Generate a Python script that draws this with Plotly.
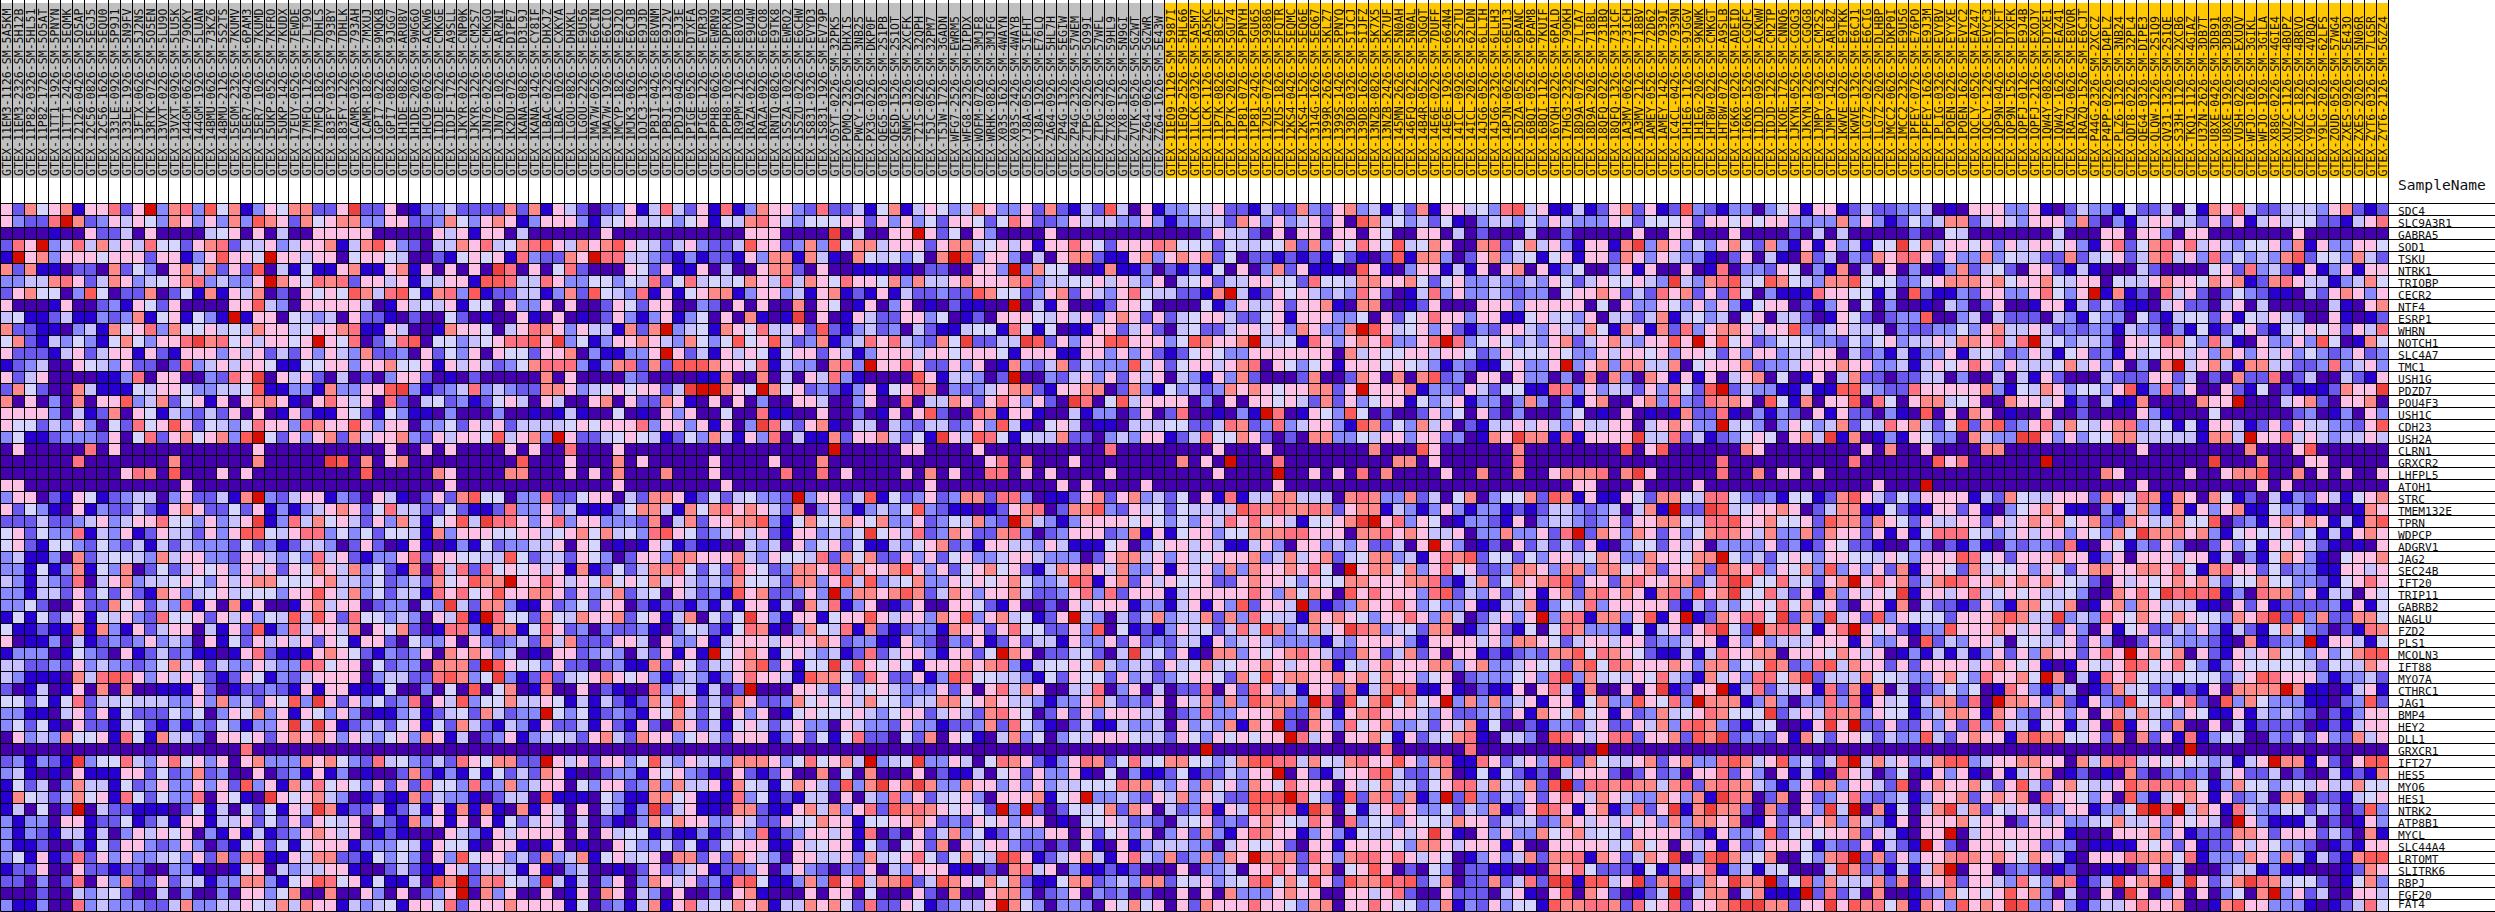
import numpy as np
import plotly.graph_objects as go

sample_names = """GTEX-11EM3-1126-SM-5A5KM GTEX-11EM3-2326-SM-5H12B GTEX-11P82-0326-SM-5HL51 GTEX-11P82-1726-SM-5O5AT GTEX-11TT1-1926-SM-5PNYN GTEX-11TT1-2426-SM-5EQMK GTEX-12126-0426-SM-5O5AP GTEX-12C56-0826-SM-5EGJ5 GTEX-12C56-1626-SM-5EQU0 GTEX-133LE-0926-SM-5P9J1
GTEX-133LE-1926-SM-5N9FV GTEX-13FTX-0626-SM-5J2NS GTEX-13RTK-0726-SM-5O5EN GTEX-13VXT-0226-SM-5LU9O GTEX-13VXT-0926-SM-5LU5K GTEX-144GM-0626-SM-79OKY GTEX-144GM-1926-SM-5LUAN GTEX-14BMU-0626-SM-73KZ6 GTEX-14BMU-2126-SM-5S2TS GTEX-15EOM-2326-SM-7KUMV
GTEX-15ER7-0426-SM-6PAM3 GTEX-15ER7-1026-SM-7KUMD GTEX-15UKP-0526-SM-7KFRO GTEX-15UKP-1426-SM-7KUDX GTEX-17EUY-0526-SM-7EWDE GTEX-17MFQ-1126-SM-7LT9O GTEX-17MFQ-1826-SM-7DHLS GTEX-183FY-0326-SM-793BY GTEX-183FY-1226-SM-7DHLK GTEX-1CAMR-0326-SM-793AH
GTEX-1CAMR-1826-SM-7MXUJ GTEX-1GPI7-0226-SM-9MQKB GTEX-1GPI7-0826-SM-9JGG7 GTEX-1H1DE-0826-SM-ARU8V GTEX-1H1DE-2026-SM-9WG6O GTEX-1HCU9-0626-SM-ACKW6 GTEX-1IDJE-0226-SM-CMKGE GTEX-1IDJF-1726-SM-A9SLL GTEX-1JKYR-0226-SM-CNP0K GTEX-1JKYR-1226-SM-CM2S7
GTEX-1JN76-0226-SM-CMKGO GTEX-1JN76-1026-SM-ARZNI GTEX-1K2DU-0726-SM-DIPE7 GTEX-1KANA-0826-SM-D3L9J GTEX-1KANA-1426-SM-CY8IF GTEX-1LBAC-0226-SM-DHXJZ GTEX-1LBAC-1026-SM-CXKYA GTEX-1LGOU-0826-SM-DHXKL GTEX-1LGOU-2226-SM-E9U56 GTEX-1MA7W-0526-SM-E6CIN
GTEX-1MA7W-1926-SM-E6CIO GTEX-1MCYP-1826-SM-E9J2O GTEX-1MJK3-0626-SM-E6CJB GTEX-1OJC3-1326-SM-E9J3D GTEX-1PBJI-0426-SM-E8VNM GTEX-1PBJI-1326-SM-E9J2V GTEX-1PDJ9-0426-SM-E9J3E GTEX-1PIGE-0526-SM-DTXFA GTEX-1PIGE-1226-SM-EVR3O GTEX-1PPH8-0626-SM-EWRN9
GTEX-1PPH8-1026-SM-DPRXN GTEX-1R9PM-2126-SM-E8VOB GTEX-1RAZA-0226-SM-E9U4W GTEX-1RAZA-0926-SM-E6CO8 GTEX-1RNTQ-0826-SM-E9TK8 GTEX-1S5ZA-1026-SM-EWRO2 GTEX-1S5ZU-0226-SM-E6CHW GTEX-1S831-0326-SM-EVYD3 GTEX-1S831-1926-SM-EV79P GTEX-O5YT-0226-SM-32PK5
GTEX-POMQ-2326-SM-DHXIS GTEX-PWCY-1926-SM-3NB25 GTEX-PX3G-0226-SM-DKP0F GTEX-QEG5-0326-SM-2S1PB GTEX-QESD-1526-SM-2S1OT GTEX-SNMC-1326-SM-2XCFK GTEX-T2IS-0226-SM-32QPH GTEX-T5JC-0526-SM-32PM7 GTEX-T5JW-1726-SM-3GADN GTEX-WFG7-2526-SM-EWRM5
GTEX-WFG8-2326-SM-DIPDX GTEX-WOFM-0726-SM-3MJF8 GTEX-WRHK-0826-SM-3MJFG GTEX-X03S-1626-SM-4WAYN GTEX-X03S-2426-SM-4WAYB GTEX-YJ8A-0526-SM-5IFHT GTEX-YJ8A-1926-SM-E76LQ GTEX-ZA64-0926-SM-5HL7H GTEX-ZP4G-1326-SM-5EGIW GTEX-ZP4G-2326-SM-57WEM
GTEX-ZTPG-0226-SM-5O99I GTEX-ZTPG-2326-SM-57WFL GTEX-ZTX8-0726-SM-59HL9 GTEX-ZTX8-1526-SM-5N9GI GTEX-ZVTK-0526-SM-5GZWT GTEX-ZZ64-0626-SM-5GZWR GTEX-ZZ64-1626-SM-5E43W GTEX-11EO9-1126-SM-5987I GTEX-11EQ9-2526-SM-5HL66 GTEX-11LCK-0326-SM-5A5M7
GTEX-11LCK-1126-SM-5A5KC GTEX-11P7K-0826-SM-5BC5F GTEX-11P7K-2026-SM-5GU74 GTEX-11P81-0726-SM-5PNYH GTEX-11P81-2426-SM-5GU65 GTEX-11ZUS-0726-SM-59886 GTEX-11ZUS-1826-SM-5FQTR GTEX-12KS4-0426-SM-5EQMC GTEX-12KS4-1526-SM-5EQ6E GTEX-1314G-1626-SM-5EQ67
GTEX-1399R-2626-SM-5KLZ7 GTEX-1399S-1426-SM-5PNYQ GTEX-139D8-0326-SM-5IJCJ GTEX-139D8-1626-SM-5IJFZ GTEX-13NZB-0826-SM-5K7X5 GTEX-13NZB-2426-SM-5K7UF GTEX-145MN-2626-SM-5N0AH GTEX-146FQ-0226-SM-5N0AL GTEX-14B4R-0526-SM-5QGQT GTEX-14E6E-0226-SM-7DUFF
GTEX-14E6E-1926-SM-664N4 GTEX-14ICL-0926-SM-5S2TU GTEX-14ICL-2026-SM-62LDN GTEX-14JG6-0526-SM-6LLIH GTEX-14JG6-2326-SM-6LLH3 GTEX-14PJN-0626-SM-6EU13 GTEX-15DZA-0526-SM-6PANC GTEX-16BQI-0526-SM-6PAM8 GTEX-16BQI-1126-SM-7KUIF GTEX-16YQH-0226-SM-6PALD
GTEX-17HG3-2326-SM-79OKH GTEX-18D9A-0726-SM-7LTA7 GTEX-18D9A-2026-SM-718BL GTEX-18QFQ-0226-SM-731BQ GTEX-18QFQ-1326-SM-731CF GTEX-1A3MV-0626-SM-731CH GTEX-1A3MV-2126-SM-718BV GTEX-1AMEY-0526-SM-72D62 GTEX-1AMEY-1426-SM-7939I GTEX-1C4CL-0426-SM-7939N
GTEX-1H1E6-1126-SM-9JGGV GTEX-1H1E6-2026-SM-9KNWK GTEX-1HT8W-0226-SM-CMKGT GTEX-1HT8W-0726-SM-A9SLB GTEX-1I6K6-0226-SM-ADEID GTEX-1I6K6-1526-SM-CGQFC GTEX-1IDJD-0926-SM-ACKWW GTEX-1IDJD-1226-SM-CM2TP GTEX-1IKOE-1726-SM-CNNQ6 GTEX-1JKYN-0526-SM-CGQG3
GTEX-1JKYN-1226-SM-CGQG8 GTEX-1JMPY-0326-SM-CM2S2 GTEX-1JMPY-1426-SM-ARL8Z GTEX-1KWVE-0226-SM-E9TKK GTEX-1KWVE-1326-SM-E6CJ1 GTEX-1LG7Z-0226-SM-E6CIG GTEX-1LG7Z-2026-SM-DLHBP GTEX-1MCC2-0626-SM-DKP0I GTEX-1MCC2-2326-SM-E9U5G GTEX-1PFEY-0726-SM-E76PO
GTEX-1PFEY-1626-SM-E9J3M GTEX-1PLIG-0326-SM-EVYBV GTEX-1POEN-0226-SM-EYYXE GTEX-1POEN-1626-SM-EVYC2 GTEX-1QCLY-0526-SM-EAZ47 GTEX-1QCLY-1226-SM-EVYC3 GTEX-1QP9N-0426-SM-DTXFT GTEX-1QP9N-1526-SM-DTXFK GTEX-1QPFJ-0126-SM-E9J4B GTEX-1QPFJ-2126-SM-EXOJY
GTEX-1QW4Y-0826-SM-DTXE1 GTEX-1QW4Y-1626-SM-EAZ41 GTEX-1RAZQ-0626-SM-E8VOR GTEX-1RAZQ-1526-SM-E6CJT GTEX-P44G-2326-SM-2XCCZ GTEX-P4PP-0226-SM-D4PLZ GTEX-PLZ6-1326-SM-3NB24 GTEX-QDT8-0226-SM-32PL4 GTEX-QEG4-0326-SM-DIPE3 GTEX-QLQW-1226-SM-2S1Q9
GTEX-QV31-1326-SM-2S1QE GTEX-S33H-1126-SM-2XCB6 GTEX-TKQ1-1126-SM-4GIAZ GTEX-U3ZN-2626-SM-3DB7T GTEX-U8XE-0426-SM-3DB91 GTEX-U8XE-1926-SM-3DB98 GTEX-VUSH-0226-SM-EXUQV GTEX-WFJO-1026-SM-3GIKL GTEX-WFJO-1926-SM-3GILA GTEX-X88G-0226-SM-4GIE4
GTEX-XUZC-1126-SM-4BOPZ GTEX-XUZC-1826-SM-4BRVO GTEX-Y9LG-1226-SM-4VBQA GTEX-Y9LG-2026-SM-62LFS GTEX-ZOUD-0526-SM-57WG4 GTEX-ZXES-0926-SM-5E43O GTEX-ZXES-2026-SM-5N06R GTEX-ZYT6-0326-SM-7LG5R GTEX-ZYT6-2126-SM-5GZZ4""".split()

gene_names = ['SDC4', 'SLC9A3R1', 'GABRA5', 'SOD1', 'TSKU', 'NTRK1', 'TRIOBP', 'CECR2', 'NTF4', 'ESRP1',
              'WHRN', 'NOTCH1', 'SLC4A7', 'TMC1', 'USH1G', 'PDZD7', 'POU4F3', 'USH1C', 'CDH23', 'USH2A',
              'CLRN1', 'GRXCR2', 'LHFPL5', 'ATOH1', 'STRC', 'TMEM132E', 'TPRN', 'WDPCP', 'ADGRV1', 'JAG2',
              'SEC24B', 'IFT20', 'TRIP11', 'GABRB2', 'NAGLU', 'FZD2', 'PLS1', 'MCOLN3', 'IFT88', 'MYO7A',
              'CTHRC1', 'JAG1', 'BMP4', 'HEY2', 'DLL1', 'GRXCR1', 'IFT27', 'HES5', 'MYO6', 'HES1',
              'NTRK2', 'ATP8B1', 'MYCL', 'SLC44A4', 'LRTOMT', 'SLITRK6', 'RBPJ', 'FGF20', 'FAT4']

# first 97 samples grey, the rest orange
sample_group = [1] * 97 + [2] * 102

# cell colour level per gene, one hex digit per sample, read by eye (0 darkest blue .. b red)
level_rows = [
    "6275671668 26b3783957 136577226a 2260133422 2272716420 2361484261 8137663282 2415714653 4763362721 4294061335 4622142273 2673414271 6645389461 1412672612 9321330356 1661242233 4010666336 1024331522 4051768422 444367212",
    "63228b7236 4653763637 3976275677 3366223753 6761366631 4564453561 5478643555 6626363526 6525862236 4443363133 4427636346 2609745342 5103443536 4333652555 6266565663 3337363125 3477246436 6637203146 6442626146 455221468",
    "0000100622 4060000456 0604006666 6000006461 6604000000 6000000000 006660000a 040066b625 0630000600 0000000000 2644206066 0660650066 0402000400 2000006006 6000600002 0404000002 0054000000 0400066066 3066000000 060000000",
    "286b348474 6485526782 4463466714 7963204476 8457896476 7965424632 2496623739 5774666267 7456461668 6526668755 5254455727 3658659457 6007825746 316617a376 3536752731 61634155a5 7466563646 6563168257 8684643556 371633665",
    "1b67366656 6626613696 65b6646605 6654002156 561832276b 8844321312 2163771741 075453507b 9366304067 7211673676 7250221212 1521029177 3026734515 6166276364 3310260410 7240327688 6263373544 2272456247 8463835343 792553742",
    "7271102207 2530674726 2904151167 1167160606 0a80605820 0065261160 4006772060 0111010220 0663b37550 0171130213 1506037261 1109610366 1416067061 3500361600 6018033265 0317040603 0137245206 6214100042 0000562834 216136166",
    "3344786247 6345678343 36b7658782 6646144661 9984486335 5354825845 4576484765 8665737446 7666783445 5646436045 6244665528 5547766752 5633433436 524655643a 4378945975 4377955523 5677767566 7546605446 7665767127 864413475",
    "2675503950 2270251716 4702065659 7489517839 1224413729 5438161567 7136634167 1216142232 2975523672 6436854422 17b4126564 3438620148 3633432330 5667624286 7262850311 1866551409 2113266336 8536b17120 8462025321 104267636",
    "6000160023 1652600006 6943066666 4016454615 5063360600 2652660032 0606007065 0160360102 1100b04160 0126650000 5136446266 7107700126 0006663666 6605063365 3636315660 2136050300 1043026001 6614242110 4622046040 000041067",
    "4511241132 371561531b 1660543406 2210200520 1006106010 2631361350 607101a060 1642266350 1206665464 6367626245 6642256166 6335062568 6636611564 5360442471 4534056044 2016520233 9003404222 0431533052 1455261546 430061012",
    "7221103417 5683755645 4766456678 1164001766 5046876364 41727b3451 7658446292 1342304211 4551851501 1662462045 2246646376 337b964563 6213266436 4475176172 8367764669 3346444032 2335367446 4232331433 0315125621 556562648",
    "5721435315 753668a785 646656b658 0248905534 568896a351 3667643753 5956942371 3486843275 a2244a9263 6699666359 7667b44518 6367683368 b835653436 7246743669 6b69562355 5332535634 464776848b 4534430665 8753841063 363950175",
    "6222146246 6162166636 4624263643 7223062536 0655266703 11336b6241 6465156626 4136664665 6665166611 6636362125 6533666666 6074655664 6652365556 5336466563 6652636634 4660423141 3361454236 4156231645 6646376364 635323623",
    "1234006543 6220283464 6651155663 6675561646 4235788831 3782729997 6658143307 83b6686226 3601732472 4333946256 6467806535 6166656543 1321156336 b367377447 0566672334 6667663341 4656863644 4574636030 7b46741774 422383463",
    "6246000011 3806600328 6a06462040 2036620102 0000070600 0032000011 7007040648 3100009614 4302b00324 6362646043 1637200027 0027607079 2306606330 3070730761 6160467050 1604722022 4403004041 6200042226 6240207228 024004216",
    "2752007411 1546653344 5911331733 669a312348 3432277634 5656624abb 765b756232 1361568703 2346772166 7702731534 2376765667 726b666713 3264255118 8363442637 529b243311 4119943228 6666673154 7635536913 8360062150 21112766a",
    "7060307066 9347256160 6776106864 6082045231 2564064006 7062276106 0603006640 0360080447 626863620a 8059466660 3060665642 7263566153 4613303730 3167006738 3287760951 7066908506 7745600766 4612041170 000766b000 467206670",
    "6666304127 0651432426 0601621165 2153110300 0300101410 0501063600 5008110060 0201606920 0871661004 1330260280 01031b8016 5395020026 3506203000 3501060101 7228103132 0616220310 9060760100 6002000063 1000500000 023013063",
    "6552436305 2856962543 5866387669 6366033526 4624444565 6668366361 603a842671 0440432442 3639410564 0110444552 2487238346 6319725374 6021446464 3644660467 633b453036 5347254867 4259279236 8475467834 5151664126 264433269",
    "3511233326 0582675673 9b52636727 4667326466 594673b622 4565412537 4163804117 26674251a6 4985154472 2034366124 8557620207 7335466366 230176a771 816666a448 2412356506 74a1701316 53307433aa 6363557744 4441774b66 846434464",
    "0600000806 0000000000 0600000000 0060060600 0060600800 0600000000 000000000b 0000066000 0600000000 0080000000 0600060000 0000700096 0000007000 0000090690 0000076000 0000060700 6000077000 0000000060 0000000700 069000000",
    "0000008000 0000700000 0700000a90 7067000000 0009000600 0706000006 0000600070 0000000000 0068070006 0000000070 60b0008000 0000007706 0000008000 0000000000 0008000000 0000800000 0968000000 b000000000 0000a00070 006600000",
    "0000000000 6870900060 6000000000 9000007600 0077000606 0700070006 0000080080 6000060706 0088060600 0060000000 060000b006 0608070000 6007007006 777807a600 0008007066 0600000000 0000000000 0000076000 0060067790 070606006",
    "6600000000 0000060000 0000000000 0000000600 0000000000 0600000000 6000000000 0000000600 0000000060 6000060000 0000006000 0000000000 0000000000 0660006000 0600000000 0000006000 b000000000 0000000060 0000000060 600000000",
    "3660216512 3440362241 7b32466132 0641026279 5503382256 6042776125 245332b366 2491523623 7728830112 6726734250 6181447744 4078733724 0570355729 7161165277 5488532315 5127964253 6666142754 4666276487 1760751204 132641567",
    "6253106132 2421676225 2613134676 2584422521 1283363411 1357741757 8676427036 3134359321 1012678027 7932645254 4449878778 7267714313 6313312124 432340471b 22a9456676 0247711521 1662610356 7611031473 1716367115 331100176",
    "2224223463 4668553634 6a13847564 2637415694 a886368366 3332704726 6779315755 7657336235 4732b74313 6666565353 6486856415 567ab68365 0133216034 4323626677 5488966755 6297727652 6446626467 6756722764 4755902316 767614179",
    "5625338143 6126442636 9954688353 5255417366 6556645675 7453896523 4646216634 35a5648237 6227830236 6623716156 6355777886 6607786764 4603373362 8b27637626 3578764733 7276626161 5888543464 66365375a7 7767315655 635141676",
    "5621553253 2414243332 5231244302 6201610131 5233446065 0101641211 0043406356 2511435672 3166443641 1156035664 6411463066 343622406b 6301206242 4261035526 4603333623 1265221003 2021310323 3281065132 6300263516 564210106",
    "3411307245 5437466332 6643538462 1336826655 4495244265 3026637766 6743655482 7572263625 6334664333 0267746364 5666734746 7245773416 8792552536 6457633766 577b534256 5366554653 6669856266 6766136066 6466140315 763105667",
    "3315137153 7025246563 6462657647 3521708482 8565646171 2524778525 2865237768 3766796362 5675621476 7647336164 6373766768 50b6775736 8562237763 7737756726 6729768365 7393636271 6652745563 6526776677 6851786625 233116646",
    "4314328046 7344565364 6775556744 3523427569 77b6686465 7565746434 3755427736 9493457336 5656753349 8167264655 6226766536 5577666778 2147257678 9266278667 7248a95584 5267b68672 4798667676 7654206465 6767425575 533215686",
    "3314426252 6217634564 5553669647 3524418685 6966776263 4724506423 196722363b 3776797247 6366742236 8382666146 6666863757 6096866638 9243624616 7278676178 3967a55842 61736465a1 6646845656 4453007685 a898913087 736144065",
    "3352006227 5624381607 1600167466 0233043a42 7731162352 6602122131 4166140748 1360126006 6521600206 4666133146 16392664b2 1237668635 3361144713 5483666662 1424356585 7462066170 4221263177 5470167376 4441106261 222231615",
    "1515246154 6328556264 6354949628 5534306491 b855275476 6725614705 25a6316615 6696466376 936745126b 4304247344 7273854417 6765366863 74024636b3 7817736916 b1276885a2 73a4629365 5526667974 4a34386576 576553768a 293722775",
    "5112117173 1624660416 2913846647 0657201883 1771586230 3223103542 1587103754 8172123317 6626855226 3905121364 5248497347 46a8734527 7013621505 8733315146 268a52b788 5168b65621 3396667646 4263061562 2436314215 753202187",
    "6011304123 2363430615 2646462651 6620533606 3234274722 2664063361 4666466676 2331163203 2612624416 3362623244 1634643333 1436666316 6664637765 2466466233 4661636344 4666163360 9243664055 4462630026 4333210712 33b166415",
    "1333015320 6124231101 6821116765 2132360767 6340106623 430426161b 5676156434 1282466316 625b760224 5204a45261 0773656786 4227624726 0661212327 7958765211 4148667706 6657646013 1414136263 7662686b67 5706216467 553635799",
    "4422326343 3235746243 3643388566 0523307772 b965536220 2311726524 467926155a 4865651666 7678314556 5743442645 7456676466 7154676667 7367334655 2795876667 6377355972 3894766262 6666467656 1016546985 6853136555 554254476",
    "4311107489 8636464212 6513246666 0344228973 5a31282456 7656313431 3686641977 5286226139 8554431526 5526342356 6527596776 6767576635 6023335638 a374546584 3174638857 a244475543 3675386675 b704186855 4555524698 666313342",
    "2014016070 7001116201 2232161661 1150030509 0570170060 2100834414 02b0006642 6456433362 6068476004 4803604022 8062863416 6271479811 6102116068 41700606a1 266b148244 6182717040 2353501863 1340127452 3121607777 b71101461",
    "5525158244 5444336373 426593a626 3523806493 5574465141 4212749624 2762237565 6475534477 5676443133 6742326064 737397773b 80957a5756 b373734616 6157339658 3b77713730 3383816451 477280b776 3721632a55 8682093753 331102392",
    "3311046261 5222535036 5736165363 0113412452 74233b5351 2321657425 0636015655 5643566246 4278650262 6366644023 8336667227 4167866643 6223426176 5756162374 5687555a24 6487736551 3477617632 6636067474 5365116143 432021366",
    "3525106221 4521313253 1336a4a612 3425615274 2143162241 6216207624 1564246330 6433263312 2372853102 4114334063 437176b207 6385673342 6471500213 3246226473 8973214500 16a6b22622 6362838441 561460a165 2700604122 220121466",
    "0634375561 8517443066 5626767636 4356376140 2361345426 7427663564 2666136251 5822052706 5104735035 4666544265 3656566b84 6066751624 5781044309 8646882667 297a233261 7526652433 9426766179 7755627072 6181354003 242632746",
    "0000000000 0000000000 8000000000 0000000000 0000000000 0000000000 0000000000 0000000000 0000000000 0000000000 b000000000 0000080000 0080000000 000b000000 0000000000 0000000000 0000000000 0000000000 00b0000000 000000000",
    "231321a355 8436856360 6733376753 2845324286 57722b6462 6635943644 3777635856 74b345a336 4058762136 8725845775 5347998847 5478669637 8118624638 9275446726 7338974693 5249b47463 4799346677 6607478846 565434146b 771620699",
    "3410106111 6625237230 0602316130 1002721315 1524276100 2331656321 0621260070 5070006021 1405626336 1050311251 224366b062 1466894224 7015152120 4666202623 0668263061 4108640250 1636106146 7012010720 2323046224 020041217",
    "1524037441 5236336362 9361748565 3626285538 3373466053 6623737446 1754157642 937a67a733 7663636344 5558774363 7563765866 6064574425 6884744729 b288787747 8278774313 6773664290 6766752694 2675446978 7875137553 454644755",
    "1754247561 8525338065 10a6567430 1211724331 0244091110 5311775611 1835121440 6043836245 6306667156 b334326473 6422999b85 3192783713 b293243626 8647643376 371a870270 6236832341 3667267670 8665360931 4676162340 770221456",
    "140502b042 2111025140 525164a712 2612416171 7107164060 4313a24611 0772116747 3682978765 652b3b2025 4572760423 816497781a 7051468633 5243712698 616713826a 17a7720720 63a4b07150 47a4725464 23661335ab 8b47618433 552430293",
    "3133066122 5124166144 6252626546 0321736160 6152464040 2103757663 3642265576 6155667623 2656366010 5564232045 6232676548 6083553655 4766244423 7646465637 3776701624 3673743160 6667566026 4633457446 365640b631 114020163",
    "3132144140 3646560316 1412367646 0121000643 1646666060 6455121131 2438123664 6180206247 3512433660 6256360362 7316876613 631544646a 6106363375 6745526666 3216334925 6566726410 66b0466666 6610006667 3612227762 666242071",
    "3112003152 6632363021 5625156661 3335416551 0661016010 0653352512 5666116456 6152056270 6466322020 5106134443 3046556206 6166665377 6466616006 6666457560 6461623666 5132261421 b620666566 2330111165 6261226465 332012166",
    "3516128263 6334536272 7811647722 1535306395 6634273471 5645607726 2764306644 6374568525 754a961246 7416843723 7376b77728 6378868646 5013634727 781762476a 039a745700 5378b27263 6678767657 6410666877 7581333763 741421799",
    "1226006221 2200331001 5604344661 0024211642 4441610340 0102623461 2236036320 3260436661 1020784603 1121200060 3340668626 7056960205 3022110107 6852221513 6681341450 004a723141 47b0660232 0120011026 2400034413 110001276",
    "2203028063 7226244133 7731569856 15114097b2 78543a4140 3603764623 189511373a 6947792497 6575721157 7234377254 6345895759 6297798924 702272482a a19946a279 2376a77b25 9374447270 6682664385 378124a677 b4a6247a87 455201573",
    "0002004345 2004030030 6635700700 63060236b0 7360060160 7604306002 0671000606 6050006207 0067730236 0323020060 6073336766 0066468200 6222046106 907620124b 0477047111 b282407001 2375656967 3040060a60 360603507b 362400664",
    "3113008343 3322473344 6547476614 3451665826 6676666150 2314716845 5767144767 5282265123 446b753033 3065756062 7666866537 7066865523 7132635519 7788728568 26679aa772 66a6978571 7639676a93 3631344686 6700179663 331012485",
]

level_colors = ['#4500AD', '#2700D1', '#6B58EF', '#8888FF', '#C7C1FF', '#D5D5FF',
                '#FFC0E5', '#FF8989', '#FF7080', '#FF5A5A', '#EF4040', '#D60C00']
header_colors = ['#FFFFFF', '#C0C0C0', '#FFC800']


def stepped_scale(colors):
    n = len(colors)
    scale = []
    for i, c in enumerate(colors):
        scale.append([i / n, c])
        scale.append([(i + 1) / n, c])
    return scale


rows = [r.replace(' ', '') for r in level_rows]
bad = [(gene_names[i], len(r)) for i, r in enumerate(rows) if len(r) != len(sample_names)]
if bad or len(rows) != len(gene_names):
    raise ValueError(f'bad rows: {bad}, {len(rows)} rows, {len(sample_names)} samples')
z = [[int(ch, 16) for ch in r] for r in rows]

n_col = len(sample_names)
n_row = len(gene_names)
WIDTH, HEIGHT = 2495, 912
CELL = 12
# axis units are cells, the grid starts at these pixels
X0, Y0 = 0.5, 203.5
x_range = [-X0 / CELL, (WIDTH - X0) / CELL]
y_range = [(HEIGHT - Y0) / CELL, -Y0 / CELL]

px_y = lambda p: (p - Y0) / CELL

fig = go.Figure()

# header band: white strip, sample colour, white strip
fig.add_trace(go.Heatmap(
    x=np.arange(n_col + 1),
    y=[px_y(0), px_y(3), px_y(177.5), 0],
    z=[[0] * n_col, sample_group, [0] * n_col],
    colorscale=stepped_scale(header_colors), zmin=-0.5, zmax=2.5,
    showscale=False, hoverinfo='skip',
))

fig.add_trace(go.Heatmap(
    x=np.arange(n_col + 1),
    y=np.arange(n_row + 1),
    z=z,
    colorscale=stepped_scale(level_colors), zmin=-0.5, zmax=11.5,
    showscale=False,
    customdata=[[s for s in sample_names] for _ in gene_names],
    hovertemplate='%{customdata}<br>%{text}<extra></extra>',
    text=[[g] * n_col for g in gene_names],
))

# grid lines run over the header and out through the gene labels
vx, vy = [], []
for c in range(n_col + 1):
    vx += [c, c, None]
    vy += [y_range[1], n_row, None]
hx, hy = [], []
for r in range(n_row + 1):
    hx += [0, x_range[1], None]
    hy += [r, r, None]
for lx, ly in ((vx, vy), (hx, hy)):
    fig.add_trace(go.Scatter(x=lx, y=ly, mode='lines', line=dict(color='black', width=1),
                             showlegend=False, hoverinfo='skip'))

annotations = []
font = dict(family='DejaVu Sans Mono', size=11.6, color='#101010')
gene_font = dict(family='DejaVu Sans Mono', size=11.2, color='#101010')
label_x = n_col + 8 / CELL
for c, name in enumerate(sample_names):
    annotations.append(dict(x=c + 0.5, y=px_y(177.5), text=name, textangle=-90, showarrow=False,
                            xanchor='center', yanchor='bottom', borderpad=0, font=font))
for r, name in enumerate(gene_names):
    # labels sit on the row line, the last one stays inside the page
    annotations.append(dict(x=label_x, y=r + 1, text=name, showarrow=False,
                            xanchor='left', yanchor='bottom', borderpad=0,
                            yshift=0 if r == n_row - 1 else -3, font=gene_font))
annotations.append(dict(x=label_x, y=0, text='SampleName', showarrow=False,
                        xanchor='left', yanchor='bottom', borderpad=0, yshift=10,
                        font=dict(family='DejaVu Sans Mono', size=14.6, color='#101010')))

fig.update_layout(
    width=WIDTH, height=HEIGHT, autosize=False,
    margin=dict(l=0, r=0, t=0, b=0, pad=0),
    paper_bgcolor='white', plot_bgcolor='white',
    showlegend=False, annotations=annotations,
    hovermode='closest',
)
fig.update_xaxes(range=x_range, visible=False, fixedrange=True)
fig.update_yaxes(range=y_range, visible=False, fixedrange=True)

fig.write_html("out.html", config=dict(displayModeBar=False),
               post_script="document.body.style.margin='0';")
